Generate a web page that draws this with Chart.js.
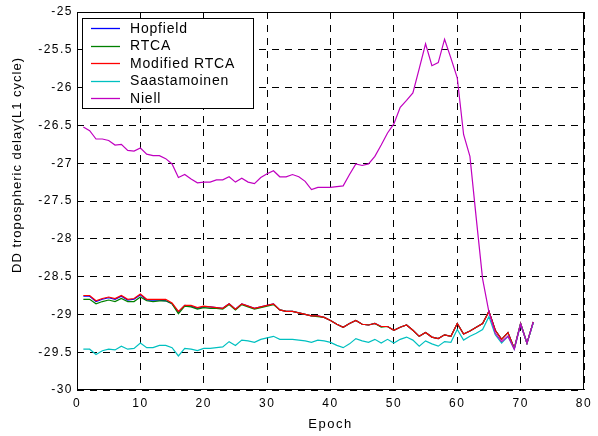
<!DOCTYPE html>
<html lang="en">
<head>
  <meta charset="UTF-8">
  <title>DD tropospheric delay</title>
  <script src="https://cdn.jsdelivr.net/npm/chart.js"></script>
  <style>
    body {
      margin: 0;
      background: #fff;
    }
    .wrap {
      position: relative;
      width: 598px;
      height: 436px;
    }
  </style>
</head>
<body>
  <div class="wrap"><canvas id="chart"></canvas></div>
  <script>
    // epochs and per-model DD tropospheric delay (L1 cycles)
    const epochs = [1, 2, 3, 4, 5, 6, 7, 8, 9, 10, 11, 12, 13, 14, 15, 16, 17, 18, 19, 20,
      21, 22, 23, 24, 25, 26, 27, 28, 29, 30, 31, 32, 33, 34, 35, 36, 37, 38, 39, 40,
      41, 42, 43, 44, 45, 46, 47, 48, 49, 50, 51, 52, 53, 54, 55, 56, 57, 58, 59, 60,
      61, 62, 63, 64, 65, 66, 67, 68, 69, 70, 71, 72];

    const hopfield = [-28.76, -28.76, -28.83, -28.80, -28.78, -28.80, -28.76, -28.81, -28.80, -28.74,
      -28.81, -28.81, -28.81, -28.82, -28.86, -28.97, -28.88, -28.89, -28.92, -28.90,
      -28.90, -28.91, -28.92, -28.86, -28.93, -28.86, -28.89, -28.92, -28.90, -28.88,
      -28.86, -28.94, -28.96, -28.96, -28.98, -29.00, -29.02, -29.02, -29.04, -29.08,
      -29.13, -29.17, -29.12, -29.08, -29.13, -29.14, -29.12, -29.16, -29.16, -29.21,
      -29.17, -29.14, -29.21, -29.29, -29.24, -29.30, -29.32, -29.27, -29.29, -29.12,
      -29.26, -29.22, -29.17, -29.12, -28.96, -29.21, -29.33, -29.24, -29.45, -29.12,
      -29.38, -29.10];

    const rtca = [-28.80, -28.80, -28.86, -28.83, -28.81, -28.83, -28.79, -28.83, -28.83, -28.77,
      -28.82, -28.83, -28.82, -28.82, -28.86, -28.99, -28.89, -28.90, -28.93, -28.91,
      -28.92, -28.92, -28.93, -28.87, -28.94, -28.87, -28.90, -28.93, -28.91, -28.89,
      -28.87, -28.94, -28.96, -28.96, -28.98, -29.00, -29.02, -29.03, -29.04, -29.08,
      -29.13, -29.17, -29.12, -29.08, -29.13, -29.14, -29.12, -29.17, -29.16, -29.21,
      -29.17, -29.14, -29.21, -29.29, -29.24, -29.30, -29.32, -29.27, -29.29, -29.12,
      -29.26, -29.22, -29.17, -29.12, -28.96, -29.21, -29.33, -29.24, -29.45, -29.12,
      -29.38, -29.10];

    const modifiedRtca = [-28.75, -28.75, -28.82, -28.79, -28.77, -28.79, -28.75, -28.80, -28.79, -28.73,
      -28.80, -28.80, -28.80, -28.80, -28.85, -28.96, -28.88, -28.88, -28.91, -28.89,
      -28.90, -28.91, -28.92, -28.86, -28.93, -28.86, -28.89, -28.92, -28.90, -28.88,
      -28.86, -28.94, -28.96, -28.96, -28.98, -29.00, -29.02, -29.02, -29.04, -29.08,
      -29.13, -29.17, -29.12, -29.08, -29.13, -29.14, -29.12, -29.16, -29.16, -29.21,
      -29.17, -29.14, -29.21, -29.29, -29.24, -29.30, -29.32, -29.27, -29.29, -29.12,
      -29.26, -29.22, -29.17, -29.12, -28.96, -29.21, -29.33, -29.24, -29.45, -29.12,
      -29.38, -29.10];

    const saastamoinen = [-29.46, -29.46, -29.53, -29.48, -29.46, -29.47, -29.42, -29.46, -29.45, -29.38,
      -29.44, -29.44, -29.41, -29.41, -29.44, -29.55, -29.45, -29.46, -29.48, -29.45,
      -29.45, -29.44, -29.43, -29.36, -29.41, -29.34, -29.35, -29.37, -29.33, -29.31,
      -29.29, -29.33, -29.33, -29.33, -29.34, -29.35, -29.37, -29.34, -29.35, -29.37,
      -29.41, -29.44, -29.39, -29.32, -29.35, -29.37, -29.33, -29.38, -29.33, -29.38,
      -29.33, -29.30, -29.34, -29.42, -29.35, -29.39, -29.42, -29.36, -29.37, -29.20,
      -29.34, -29.29, -29.25, -29.20, -29.03, -29.27, -29.38, -29.29, -29.46, -29.13,
      -29.38, -29.11];

    const niell = [-26.52, -26.57, -26.68, -26.68, -26.70, -26.76, -26.75, -26.83, -26.84, -26.80,
      -26.88, -26.90, -26.90, -26.94, -27.01, -27.19, -27.15, -27.21, -27.26, -27.25,
      -27.25, -27.22, -27.22, -27.18, -27.25, -27.20, -27.25, -27.27, -27.19, -27.14,
      -27.10, -27.18, -27.18, -27.15, -27.18, -27.24, -27.35, -27.32, -27.32, -27.32,
      -27.31, -27.30, -27.15, -27.01, -27.03, -27.01, -26.91, -26.76, -26.60, -26.48,
      -26.26, -26.17, -26.07, -25.75, -25.42, -25.71, -25.67, -25.36, -25.61, -25.87,
      -26.62, -26.91, -27.73, -28.53, -28.97, -29.25, -29.36, -29.29, -29.46, -29.13,
      -29.38, -29.10];

    const xTicks = [0, 10, 20, 30, 40, 50, 60, 70, 80];
    const yTicks = [-30, -29.5, -29, -28.5, -28, -27.5, -27, -26.5, -26, -25.5, -25];

    const FONT = "Arial, 'Liberation Sans', sans-serif";
    Chart.defaults.font.family = FONT;
    Chart.defaults.color = '#000';

    function series(label, values, color, order) {
      return {
        label: label,
        data: epochs.map((e, i) => ({ x: e, y: values[i] })),
        borderColor: color,
        backgroundColor: color,
        borderWidth: 1.2,
        pointRadius: 0,
        tension: 0,
        order: order
      };
    }

    // frame, boxed legend inside the axes and the y label, MATLAB style
    const matlabBits = {
      id: 'matlabBits',
      beforeDraw(chart) {
        // MATLAB text runs a bit wider than Arial
        chart.ctx.letterSpacing = '1.5px';
      },
      afterDraw(chart) {
        const ctx = chart.ctx;
        const a = chart.chartArea;
        ctx.save();
        ctx.strokeStyle = '#000';
        ctx.lineWidth = 1;
        ctx.strokeRect(a.left + 0.5, a.top + 0.5, a.right - a.left - 1, a.bottom - a.top - 1);

        // legend
        const bx = 82, by = 18, bw = 171, bh = 90;
        ctx.fillStyle = '#fff';
        ctx.fillRect(bx, by, bw, bh);
        ctx.strokeRect(bx + 0.5, by + 0.5, bw, bh);
        ctx.font = '14px ' + FONT;
        ctx.letterSpacing = '0.8px';
        ctx.textBaseline = 'middle';
        chart.data.datasets.forEach((ds, i) => {
          const y = 28 + i * 17.5;
          ctx.strokeStyle = ds.borderColor;
          ctx.lineWidth = 1.3;
          ctx.beginPath();
          ctx.moveTo(91, Math.round(y) + 0.5);
          ctx.lineTo(120, Math.round(y) + 0.5);
          ctx.stroke();
          ctx.fillStyle = '#000';
          ctx.fillText(ds.label, 130, y + 1);
        });

        // y axis label
        ctx.font = '13px ' + FONT;
        ctx.letterSpacing = '1px';
        ctx.translate(17, 165);
        ctx.rotate(-Math.PI / 2);
        ctx.textAlign = 'center';
        ctx.fillStyle = '#000';
        ctx.fillText('DD tropospheric delay(L1 cycle)', 0, 0);
        ctx.restore();
        ctx.letterSpacing = '0px';
      }
    };

    new Chart(document.getElementById('chart'), {
      type: 'line',
      data: {
        datasets: [
          series('Hopfield', hopfield, '#0000ff', 5),
          series('RTCA', rtca, '#008000', 4),
          series('Modified RTCA', modifiedRtca, '#ff0000', 3),
          series('Saastamoinen', saastamoinen, '#00c0c0', 2),
          series('Niell', niell, '#c000c0', 1)
        ]
      },
      options: {
        responsive: true,
        maintainAspectRatio: false,
        animation: false,
        layout: { padding: { left: 0, top: 12, right: 14, bottom: 0 } },
        plugins: {
          legend: { display: false },
          tooltip: { enabled: false }
        },
        scales: {
          x: {
            type: 'linear',
            min: 0,
            max: 80,
            afterBuildTicks: s => { s.ticks = xTicks.map(v => ({ value: v })); },
            afterFit: s => { s.height = 46; },
            ticks: { font: { size: 12 }, padding: 6, maxRotation: 0 },
            grid: { color: '#000', lineWidth: 1, drawTicks: false },
            border: { display: false, dash: [7, 6] },
            title: {
              display: true,
              text: 'Epoch',
              font: { size: 13 },
              padding: { top: 0, bottom: 4 }
            }
          },
          y: {
            min: -30,
            max: -25,
            afterBuildTicks: s => { s.ticks = yTicks.map(v => ({ value: v })); },
            afterFit: s => { s.width = 77; },
            ticks: { font: { size: 12 }, padding: 4, callback: v => String(v) },
            grid: { color: '#000', lineWidth: 1, drawTicks: false },
            border: { display: false, dash: [7, 6] }
          }
        }
      },
      plugins: [matlabBits]
    });
  </script>
</body>
</html>
